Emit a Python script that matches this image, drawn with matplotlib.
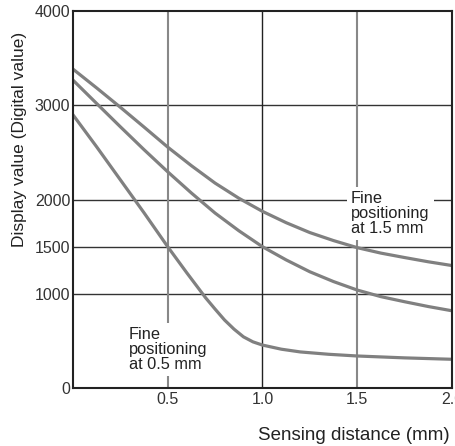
import numpy as np
import matplotlib
matplotlib.use("Agg")
from matplotlib import pyplot as plt

plt.rcParams['font.family'] = ['Liberation Sans', 'DejaVu Sans']

# valores
dist_top = [0, 0.125, 0.25, 0.375, 0.5, 0.625, 0.75, 0.875, 1.0, 1.125, 1.25,
            1.375, 1.5, 1.625, 1.75, 1.875, 2.0]
val_top = [3385, 3185, 2980, 2770, 2557, 2360, 2175, 2015, 1875, 1755, 1650,
           1565, 1490, 1432, 1385, 1340, 1300]

dist_mid = [0, 0.125, 0.25, 0.375, 0.5, 0.625, 0.75, 0.875, 1.0, 1.125, 1.25,
            1.375, 1.5, 1.625, 1.75, 1.875, 2.0]
val_mid = [3268, 3020, 2773, 2530, 2295, 2070, 1857, 1670, 1500, 1360, 1234,
           1130, 1040, 970, 916, 865, 820]

dist_low = [0, 0.125, 0.25, 0.375, 0.5, 0.6, 0.7, 0.75, 0.8, 0.85, 0.9, 0.95,
            1.0, 1.1, 1.2, 1.35, 1.5, 1.75, 2.0]
val_low = [2900, 2560, 2210, 1860, 1500, 1225, 958, 838, 722, 625, 543, 490,
           456, 412, 383, 358, 340, 320, 305]

yticks = [0, 1000, 1500, 2000, 3000, 4000]
xticks = [0.5, 1.0, 1.5, 2.0]
xticklabels = ["0.5", "1.0", "1.5", "2.0"]

fig = plt.figure(figsize=(4.56, 4.46), dpi=100)
ax = fig.add_axes([0.160, 0.130, 0.831, 0.845])

# rejilla
for yv in [1000, 1500, 2000, 3000]:
    ax.axhline(yv, color="#333333", lw=1.0, zorder=1)
ax.axvline(0.5, color="#888888", lw=1.5, zorder=1)
ax.axvline(1.0, color="#222222", lw=1.0, zorder=1)
ax.axvline(1.5, color="#888888", lw=1.5, zorder=1)

curve = "#808080"
ax.plot(dist_top, val_top, color=curve, lw=2.3, zorder=3, solid_joinstyle="round")
ax.plot(dist_mid, val_mid, color=curve, lw=2.3, zorder=3, solid_joinstyle="round")
ax.plot(dist_low, val_low, color=curve, lw=2.3, zorder=3, solid_joinstyle="round")

ax.text(0.295, 650, "Fine\npositioning\nat 0.5 mm", fontsize=11.8, va="top", ha="left",
        linespacing=1.0, color="#222222", zorder=4,
        bbox=dict(facecolor="white", edgecolor="none", boxstyle="square,pad=0.25"))
ax.text(1.467, 2090, "Fine\npositioning\nat 1.5 mm", fontsize=11.8, va="top", ha="left",
        linespacing=1.0, color="#222222", zorder=4,
        bbox=dict(facecolor="white", edgecolor="none", boxstyle="square,pad=0.25"))

ax.set_xlim(0, 2.0)
ax.set_ylim(0, 4000)
ax.set_yticks(yticks)
ax.set_yticklabels([str(v) for v in yticks])
ax.set_xticks(xticks)
ax.set_xticklabels(xticklabels)
ax.tick_params(axis="both", length=0, labelsize=11.5, colors="#333333")
ax.tick_params(axis="x", pad=3)
ax.tick_params(axis="y", pad=2)

for s in ax.spines.values():
    s.set_linewidth(1.5)
    s.set_color("#222222")
    s.set_zorder(5)

ax.set_ylabel("Display value (Digital value)", fontsize=12.5, color="#222222")
ax.yaxis.set_label_coords(-0.121, 0.66)
ax.set_xlabel("Sensing distance (mm)", fontsize=13.5, color="#222222", ha="right")
ax.xaxis.set_label_coords(0.995, -0.103)

fig.savefig("out.png", dpi=100)
